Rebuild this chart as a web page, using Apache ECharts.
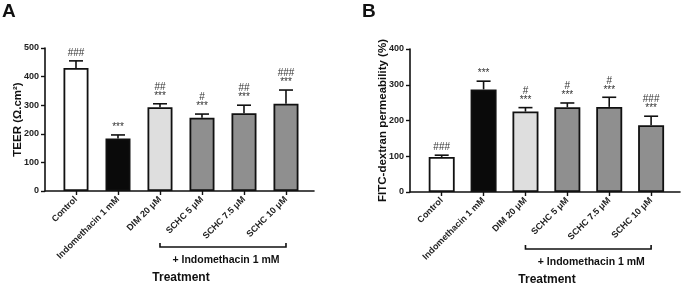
<!DOCTYPE html>
<html>
<head>
<meta charset="utf-8">
<script src="https://cdn.jsdelivr.net/npm/echarts@6/dist/echarts.min.js"></script>
<style>
html, body { margin: 0; padding: 0; background: #fff; }
#chart { width: 685px; height: 294px; }
</style>
</head>
<body>
<div id="chart"></div>
<script>
// categories
var groups = ['Control', 'Indomethacin 1 mM', 'DIM 20 μM', 'SCHC 5 μM', 'SCHC 7.5 μM', 'SCHC 10 μM'];
var barColors = ['#ffffff', '#0a0a0a', '#dedede', '#8f8f8f', '#8f8f8f', '#8f8f8f'];

// A: TEER
var teerMean = [430, 184, 293, 256, 272, 305];
var teerSd = [25, 12, 12, 13, 28, 48];
var teerSig = ['###', '***', '##\n***', '#\n***', '##\n***', '###\n***'];

// B: FITC-dextran
var fitcMean = [98, 287, 225, 237, 238, 187];
var fitcSd = [5, 23, 11, 12, 27, 25];
var fitcSig = ['###', '***', '#\n***', '#\n***', '#\n***', '###\n***'];

var font = 'Liberation Sans';
var chart = echarts.init(document.getElementById('chart'));

function barData(mean) {
	return mean.map(function(v, i) {
		return { value: [i, v], itemStyle: { color: barColors[i] } };
	});
}

function errData(mean, sd) {
	return mean.map(function(v, i) {
		return [i, v, v + sd[i]];
	});
}

function errRender(params, api) {
	var x = api.value(0);
	var p0 = api.coord([x, api.value(1)]);
	var p1 = api.coord([x, api.value(2)]);
	var label = (params.seriesIndex === 1 ? teerSig : fitcSig)[params.dataIndex];
	return {
		type: 'group',
		children: [{
			type: 'line',
			shape: { x1: p0[0], y1: p0[1], x2: p1[0], y2: p1[1] },
			style: { stroke: '#111', lineWidth: 1.6 }
		}, {
			type: 'line',
			shape: { x1: p1[0] - 7, y1: p1[1], x2: p1[0] + 7, y2: p1[1] },
			style: { stroke: '#111', lineWidth: 1.6 }
		}, {
			type: 'text',
			x: p1[0],
			y: p1[1] - 3,
			style: {
				text: label,
				textAlign: 'center',
				textVerticalAlign: 'bottom',
				fontSize: 10,
				lineHeight: 9,
				fontFamily: font,
				fill: '#333'
			}
		}]
	};
}

function xAxisFor(idx, min, max) {
	return {
		type: 'value',
		gridIndex: idx,
		min: min,
		max: max,
		splitLine: { show: false },
		axisLine: { onZero: false, lineStyle: { color: '#111', width: 1.6 } },
		axisTick: { length: 4, lineStyle: { color: '#111', width: 1.4 }, customValues: [0, 1, 2, 3, 4, 5] },
		axisLabel: {
			customValues: [0, 1, 2, 3, 4, 5],
			rotate: 45,
			margin: 7,
			fontSize: 9,
			fontWeight: 'bold',
			fontFamily: font,
			color: '#222',
			formatter: function(v) { return groups[Math.round(v)]; }
		}
	};
}

function yAxisFor(idx, max, name, gap) {
	return {
		type: 'value',
		gridIndex: idx,
		min: 0,
		max: max,
		interval: 100,
		name: name,
		nameLocation: 'middle',
		nameRotate: 90,
		nameGap: gap,
		nameMoveOverlap: false,
		nameTextStyle: { fontSize: 11.5, fontWeight: 'bold', fontFamily: font, color: '#111' },
		splitLine: { show: false },
		axisLine: { show: true, onZero: false, lineStyle: { color: '#111', width: 1.6 } },
		axisTick: { show: true, length: 4, lineStyle: { color: '#111', width: 1.4 } },
		axisLabel: { margin: 6, fontSize: 9, fontWeight: 'bold', fontFamily: font, color: '#222' }
	};
}

chart.setOption({
	animation: false,
	grid: [
		{ left: 45, right: 371, top: 48, bottom: 103 },
		{ left: 410, right: 5, top: 49, bottom: 102 }
	],
	xAxis: [xAxisFor(0, -0.738, 5.667), xAxisFor(1, -0.757, 5.69)],
	yAxis: [yAxisFor(0, 500, 'TEER (Ω.cm²)', 21), yAxisFor(1, 400, 'FITC-dextran permeability (%)', 21)],
	series: [{
		type: 'bar',
		xAxisIndex: 0,
		yAxisIndex: 0,
		barWidth: 25,
		itemStyle: { borderColor: '#111', borderWidth: 1.8 },
		data: barData(teerMean)
	}, {
		type: 'custom',
		xAxisIndex: 0,
		yAxisIndex: 0,
		renderItem: errRender,
		clip: false,
		z: 1,
		data: errData(teerMean, teerSd)
	}, {
		type: 'bar',
		xAxisIndex: 1,
		yAxisIndex: 1,
		barWidth: 26,
		itemStyle: { borderColor: '#111', borderWidth: 1.8 },
		data: barData(fitcMean)
	}, {
		type: 'custom',
		xAxisIndex: 1,
		yAxisIndex: 1,
		renderItem: errRender,
		clip: false,
		z: 1,
		data: errData(fitcMean, fitcSd)
	}]
});

// bracket + group text, positions from axis scale
function bracket(axisIdx, y) {
	var x1 = chart.convertToPixel({ xAxisIndex: axisIdx }, 2);
	var x2 = chart.convertToPixel({ xAxisIndex: axisIdx }, 5);
	return [{
		type: 'polyline',
		shape: { points: [[x1, y - 4], [x1, y], [x2, y], [x2, y - 4]] },
		style: { stroke: '#111', lineWidth: 1.6, fill: null }
	}, {
		type: 'text',
		x: (x1 + x2) / 2 + 3,
		y: y + 13,
		style: { text: '+ Indomethacin 1 mM', textAlign: 'center', textVerticalAlign: 'middle', fontSize: 10.5, fontWeight: 'bold', fontFamily: font, fill: '#111' }
	}];
}

var ga = bracket(0, 247);
var gb = bracket(1, 249);
chart.setOption({
	graphic: ga.concat(gb).concat([
		{ type: 'text', x: 181, y: 278, style: { text: 'Treatment', textAlign: 'center', textVerticalAlign: 'middle', fontSize: 12, fontWeight: 'bold', fontFamily: font, fill: '#111' } },
		{ type: 'text', x: 547, y: 280, style: { text: 'Treatment', textAlign: 'center', textVerticalAlign: 'middle', fontSize: 12, fontWeight: 'bold', fontFamily: font, fill: '#111' } },
		{ type: 'text', x: 2, y: 2, style: { text: 'A', fontSize: 19, fontWeight: 'bold', fontFamily: font, fill: '#111' } },
		{ type: 'text', x: 362, y: 2, style: { text: 'B', fontSize: 19, fontWeight: 'bold', fontFamily: font, fill: '#111' } }
	])
});
</script>
</body>
</html>
